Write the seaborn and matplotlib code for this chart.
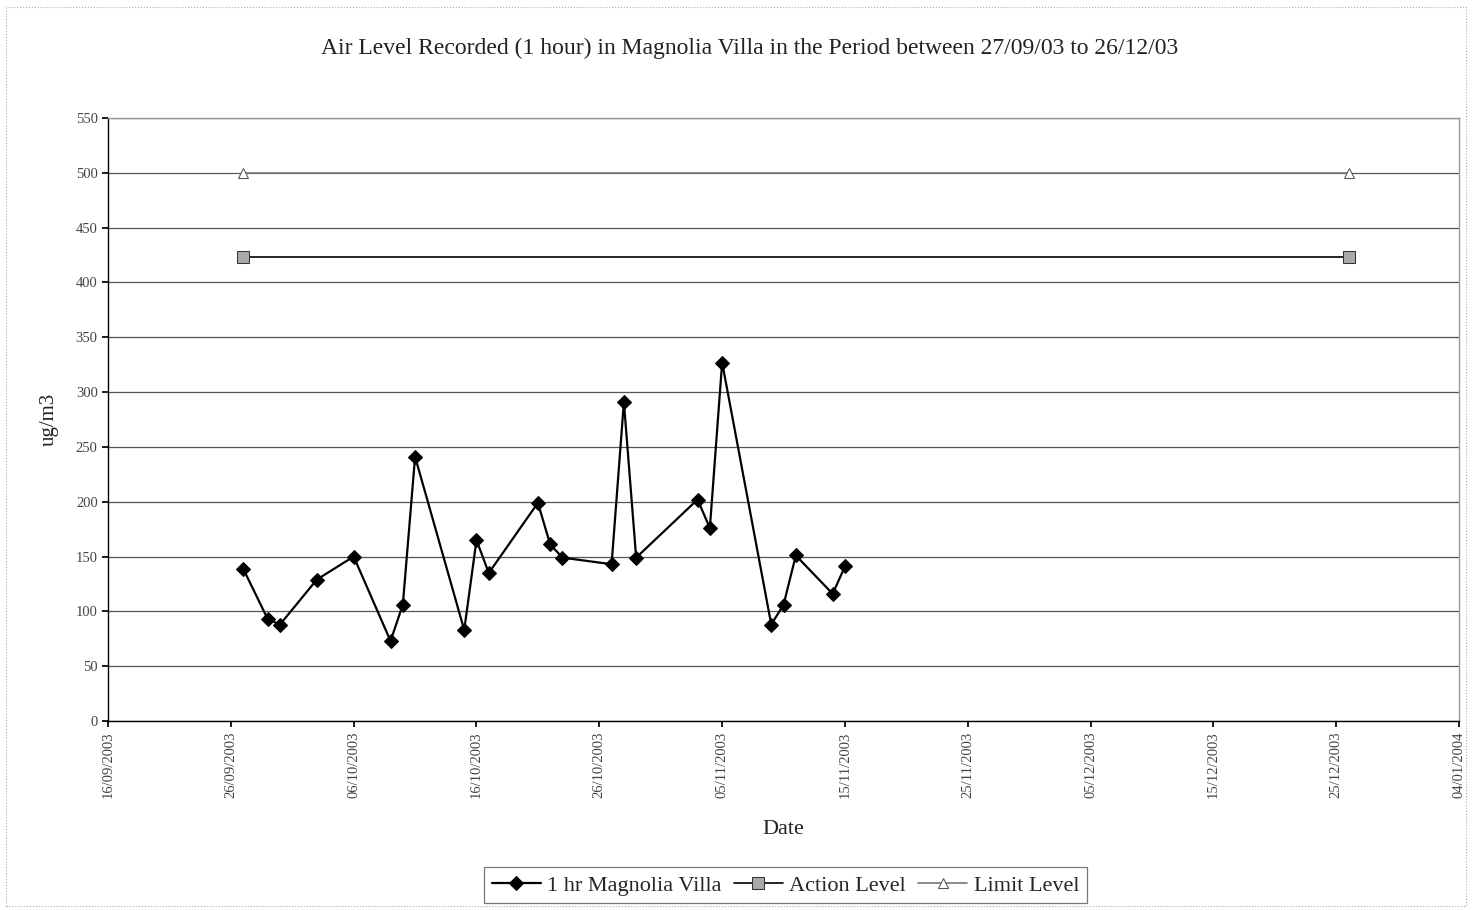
import pandas as pd
import numpy as np
import matplotlib
matplotlib.use("Agg")
import matplotlib.pyplot as plt
import matplotlib.dates as mdates
import seaborn as sns

# data
dates = ["2003-09-27", "2003-09-29", "2003-09-30", "2003-10-03", "2003-10-06",
         "2003-10-09", "2003-10-10", "2003-10-11", "2003-10-15", "2003-10-16",
         "2003-10-17", "2003-10-21", "2003-10-22", "2003-10-23", "2003-10-27",
         "2003-10-28", "2003-10-29", "2003-11-03", "2003-11-04", "2003-11-05",
         "2003-11-09", "2003-11-10", "2003-11-11", "2003-11-14", "2003-11-15"]
levels = [139, 93, 88, 129, 150, 73, 106, 241, 83, 165,
          135, 199, 161, 149, 143, 291, 149, 202, 176, 327,
          88, 106, 151, 116, 141]
level_dates = ["2003-09-27", "2003-12-26"]
action_level = [423, 423]
limit_level = [500, 500]

df = pd.DataFrame({"date": pd.to_datetime(dates), "value": levels})
df_action = pd.DataFrame({"date": pd.to_datetime(level_dates), "value": action_level})
df_limit = pd.DataFrame({"date": pd.to_datetime(level_dates), "value": limit_level})

sns.set_theme(style="white")
plt.rcParams['font.family'] = ['Liberation Serif', 'DejaVu Serif']

fig = plt.figure(figsize=(14.72, 9.10), dpi=100)
ax = fig.add_axes([0.0734, 0.2077, 0.9178, 0.6626])

sns.lineplot(data=df_limit, x="date", y="value", ax=ax, color="#777777", lw=1.2,
             marker="^", markersize=7, markerfacecolor="white",
             markeredgecolor="#555555", label="Limit Level")
sns.lineplot(data=df_action, x="date", y="value", ax=ax, color="black", lw=1.2,
             marker="s", markersize=8, markerfacecolor="#aaaaaa",
             markeredgecolor="#333333", label="Action Level")
sns.lineplot(data=df, x="date", y="value", ax=ax, color="black", lw=1.6,
             marker="D", markersize=7, markerfacecolor="black",
             markeredgecolor="black", label="1 hr Magnolia Villa")

ax.set_xlim(pd.Timestamp("2003-09-16"), pd.Timestamp("2004-01-04"))
ax.set_ylim(0, 550)
ax.set_yticks(np.arange(0, 551, 50))
ticks = pd.date_range("2003-09-16", "2004-01-04", freq="10D")
ax.set_xticks(ticks)
ax.xaxis.set_major_formatter(mdates.DateFormatter("%d/%m/%Y"))
plt.setp(ax.get_xticklabels(), rotation=90, fontsize=10.5, color="#444444")
plt.setp(ax.get_yticklabels(), fontsize=10.5, color="#444444")
ax.tick_params(axis="both", length=4, color="black", direction="out")
ax.tick_params(axis="x", bottom=True)
ax.tick_params(axis="y", left=True)

ax.grid(axis="y", color="#555555", lw=0.9)
ax.set_axisbelow(True)
for s in ax.spines.values():
    s.set_color("black")
    s.set_linewidth(1.0)
ax.spines["top"].set_color("#999999")
ax.spines["right"].set_color("#999999")

fig.text(750 / 1472, 1 - 48 / 910,
         "Air Level Recorded (1 hour) in Magnolia Villa in the Period between 27/09/03 to 26/12/03",
         fontsize=17, ha="center", va="center", color="#222222")
ax.set_xlabel("Date", fontsize=16, labelpad=16, color="#222222")
ax.set_ylabel("ug/m3", fontsize=15, labelpad=12, color="#222222")

handles, labels = ax.get_legend_handles_labels()
order = [2, 1, 0]
leg = ax.legend([handles[i] for i in order], [labels[i] for i in order],
                loc="upper center", bbox_to_anchor=(0.5015, -0.224), ncol=3,
                fontsize=16, frameon=True, fancybox=False, edgecolor="#555555",
                handlelength=2.2, handletextpad=0.3, columnspacing=0.55,
                borderpad=0.35)
leg.get_frame().set_linewidth(0.9)

fig.patches.append(plt.Rectangle((0.004, 0.004), 0.992, 0.988, transform=fig.transFigure,
                                 fill=False, edgecolor="#aaaaaa", lw=0.8, linestyle=":"))

fig.savefig("out.png", dpi=100)
